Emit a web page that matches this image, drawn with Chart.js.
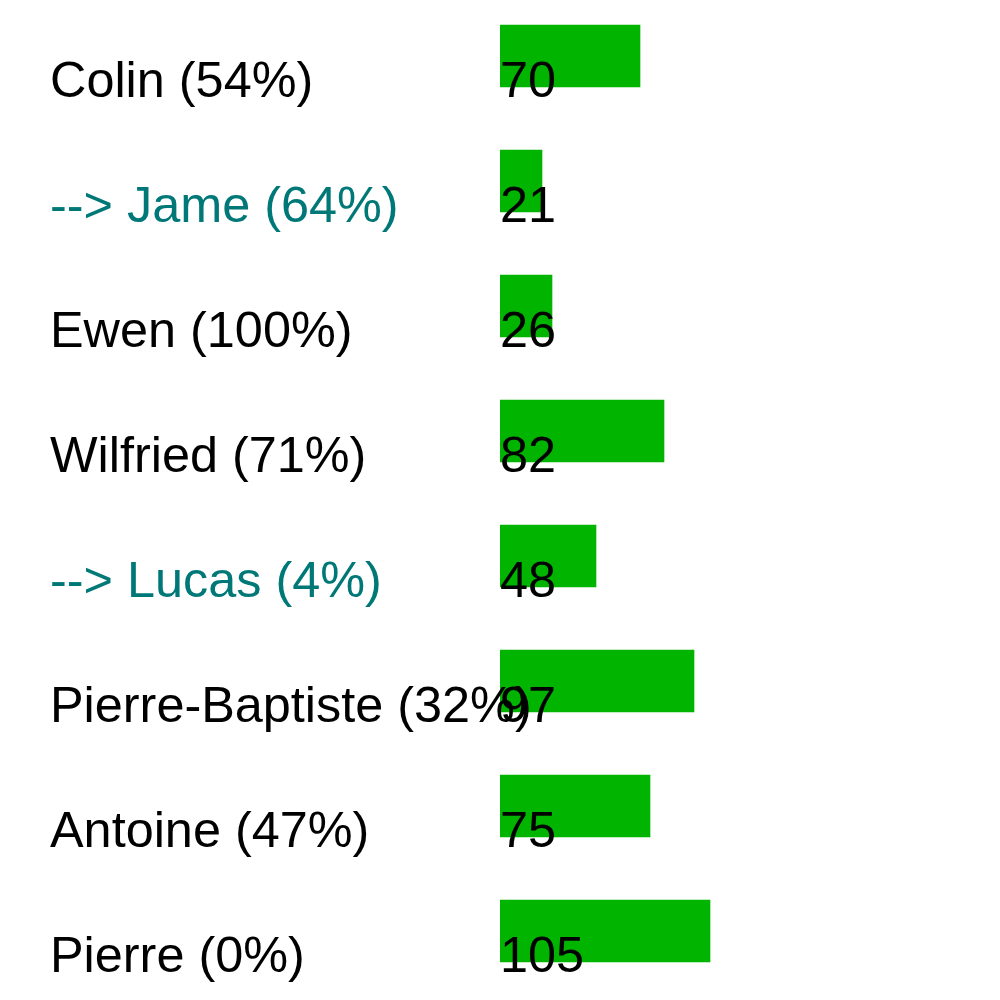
<!DOCTYPE html>
<html>
<head>
<meta charset="utf-8">
<script src="https://cdn.jsdelivr.net/npm/chart.js@4"></script>
<style>
html,body{margin:0;padding:0;background:#fff;}
#wrap{position:relative;width:1000px;height:1000px;}
</style>
</head>
<body>
<div id="wrap"><canvas id="c" width="1000" height="1000"></canvas></div>
<script>
const categories = ["Colin (54%)", "--> Jame (64%)", "Ewen (100%)", "Wilfried (71%)", "--> Lucas (4%)", "Pierre-Baptiste (32%)", "Antoine (47%)", "Pierre (0%)"];
const values = [70, 21, 26, 82, 48, 97, 75, 105];
const highlighted = [false, true, false, false, true, false, false, false];

const FONT = '50.4px "Liberation Sans", Arial, sans-serif';

const labelPlugin = {
  id: 'rowLabels',
  afterDatasetsDraw(chart) {
    const ctx = chart.ctx;
    const xs = chart.scales.x, ys = chart.scales.y;
    ctx.save();
    ctx.font = FONT;
    ctx.textAlign = 'left';
    ctx.textBaseline = 'alphabetic';
    categories.forEach((lab, i) => {
      const y = ys.getPixelForValue(i) + 40.5;
      ctx.fillStyle = highlighted[i] ? '#007878' : '#000000';
      ctx.fillText(lab, 50, y);
      ctx.fillStyle = '#000000';
      ctx.fillText(String(values[i]), xs.getPixelForValue(0), y);
    });
    ctx.restore();
  }
};

new Chart(document.getElementById('c'), {
  type: 'bar',
  data: {
    datasets: [{
      data: values.map((v, i) => ({x: v, y: i})),
      backgroundColor: '#00B400',
      borderWidth: 0,
      barThickness: 62
    }]
  },
  options: {
    indexAxis: 'y',
    responsive: false,
    animation: false,
    layout: {padding: {left: 500, right: 0, top: 0, bottom: 0}},
    plugins: {legend: {display: false}, tooltip: {enabled: false}},
    scales: {
      x: {type: 'linear', min: 0, max: 250, display: false, offset: false, grace: 0},
      y: {type: 'linear', min: -0.448, max: 7.552, reverse: true, display: false, offset: false, grace: 0}
    }
  },
  plugins: [labelPlugin]
});
</script>
</body>
</html>
